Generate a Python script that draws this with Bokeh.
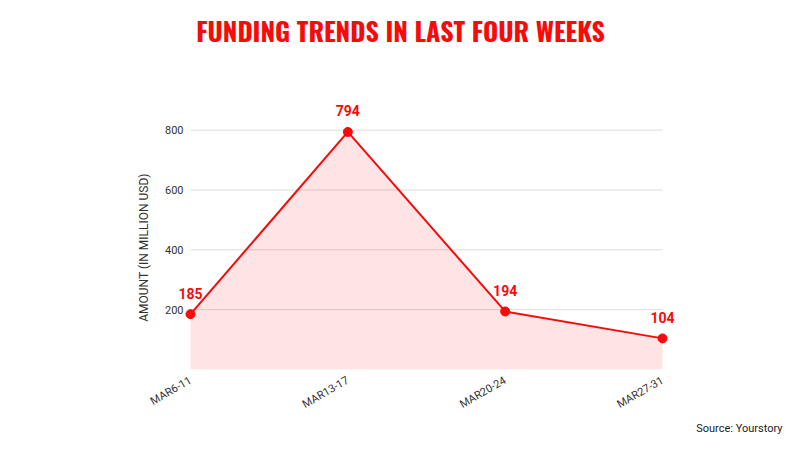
import math
from bokeh.plotting import figure
from bokeh.models import ColumnDataSource, FixedTicker, LabelSet, Label, Range1d, Title
from bokeh.core.properties import value
from bokeh.embed import file_html
from bokeh.resources import INLINE

weeks = ["MAR6-11", "MAR13-17", "MAR20-24", "MAR27-31"]
amounts = [185, 794, 194, 104]
y_ticks = [200, 400, 600, 800]
title_text = "FUNDING TRENDS IN LAST FOUR WEEKS"
y_label = "AMOUNT (IN MILLION USD)"
source_text = "Source: Yourstory"

RED = "#f80a0a"

xs = list(range(len(weeks)))
src = ColumnDataSource(dict(x=xs, y=amounts, zero=[0] * len(xs),
                            lbl=[str(a) for a in amounts]))
grid_src = ColumnDataSource(dict(x0=[xs[0]] * len(y_ticks), x1=[xs[-1]] * len(y_ticks),
                                 y=y_ticks))

# layout in pixels: frame spans x FL..FR and y FT..FB
W, H = 784, 434
FL, FR, FT, FB = 120, 678, 0, 370
UNIT = 472 / 3  # pixels per category step
p = figure(width=W, height=H, output_backend="svg", toolbar_location=None,
           x_range=Range1d(-(190 - FL) / UNIT, len(weeks) - 1 + (FR - 662) / UNIT),
           y_range=Range1d(0, (FB - FT) / 0.3),
           min_border_left=FL, min_border_right=W - FR,
           min_border_top=FT, min_border_bottom=H - FB)
p.outline_line_color = None
p.xgrid.visible = False
p.ygrid.visible = False

p.segment(x0="x0", x1="x1", y0="y", y1="y", source=grid_src,
          line_color="#dcdcdc", line_width=1)
p.varea(x="x", y1="zero", y2="y", source=src, fill_color=RED, fill_alpha=0.11)
p.line(x="x", y="y", source=src, line_color=RED, line_width=2)
p.scatter(x="x", y="y", source=src, size=9, fill_color=RED, line_color=RED)

labels = LabelSet(x="x", y="y", text="lbl", source=src, y_offset=21,
                  text_align="center", text_baseline="middle",
                  text_font=value("Roboto"), text_font_style="bold",
                  text_font_size="14px", text_color=RED)
p.add_layout(labels)

p.xaxis.ticker = FixedTicker(ticks=xs)
p.xaxis.major_label_overrides = {i: w for i, w in enumerate(weeks)}
p.xaxis.major_label_orientation = math.radians(30)
p.yaxis.ticker = FixedTicker(ticks=y_ticks)
for ax in (p.xaxis[0], p.yaxis[0]):
    ax.axis_line_color = None
    ax.major_tick_line_color = None
    ax.minor_tick_line_color = None
    ax.major_label_text_font = "Roboto"
    ax.major_label_text_font_size = "11px"
    ax.major_label_text_color = "#333333"
p.yaxis.major_label_standoff = -(189 - FL)
p.xaxis.major_label_standoff = 4

p.add_layout(Label(x=400 - FL, y=FB - 31, x_units="screen", y_units="screen",
                   text=title_text, text_align="center", text_baseline="middle",
                   text_font="Oswald", text_font_style="bold",
                   text_font_size="26px", text_color=RED))
p.add_layout(Label(x=143 - FL, y=FB - 248, x_units="screen", y_units="screen",
                   text=y_label, angle=math.pi / 2,
                   text_align="center", text_baseline="middle",
                   text_font="Roboto", text_font_size="12px", text_color="#333333"))

src_title = Title(text=source_text, align="right", offset=-(782 - FR), standoff=0,
                  text_font="Roboto", text_font_size="11px",
                  text_font_style="normal", text_color="#222222")
p.add_layout(src_title, "below")

open("out.html", "w").write(file_html(p, INLINE))
